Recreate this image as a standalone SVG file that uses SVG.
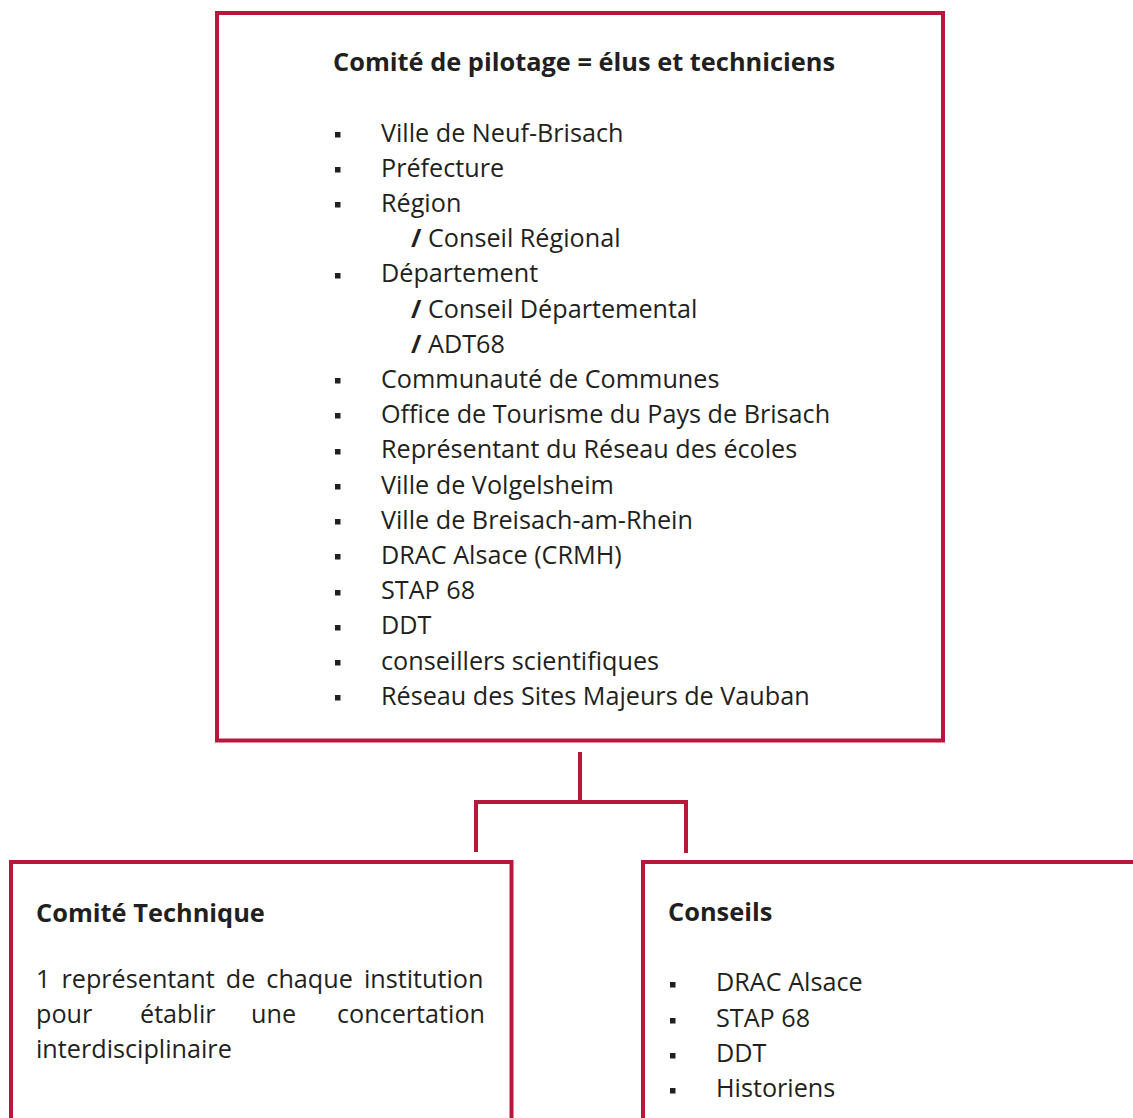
<svg xmlns="http://www.w3.org/2000/svg" width="1133" height="1118" viewBox="0 0 1133 1118">
  <style>
    .box { fill: #ffffff; stroke: #b8173c; stroke-width: 4; }
    .conn { fill: none; stroke: #b8173c; stroke-width: 4; }
    text { font-family: "Open Sans", Roboto, "Liberation Sans", sans-serif; fill: #231f20; font-size: 25.2px; }
    .title { font-weight: bold; font-size: 25.4px; }
    .slash { font-weight: bold; }
    .bullet { fill: #231f20; }
  </style>
  <defs>
    <rect id="sq" width="5.5" height="5.5" class="bullet"/>
  </defs>
  <rect width="1133" height="1118" fill="#ffffff"/>

  <g id="connectors">
    <path class="conn" d="M580,752 V802"/>
    <path class="conn" d="M476,852 V802 H686 V853"/>
  </g>

  <g id="node-copil">
    <rect class="box" x="217" y="13" width="726" height="727.5"/>
    <text class="title" x="333" y="71">Comité de pilotage = élus et techniciens</text>
    <g>
      <use href="#sq" x="335" y="132"/>
      <use href="#sq" x="335" y="167"/>
      <use href="#sq" x="335" y="202"/>
      <use href="#sq" x="335" y="273"/>
      <use href="#sq" x="335" y="378"/>
      <use href="#sq" x="335" y="413"/>
      <use href="#sq" x="335" y="449"/>
      <use href="#sq" x="335" y="484"/>
      <use href="#sq" x="335" y="519"/>
      <use href="#sq" x="335" y="554"/>
      <use href="#sq" x="335" y="590"/>
      <use href="#sq" x="335" y="625"/>
      <use href="#sq" x="335" y="660"/>
      <use href="#sq" x="335" y="695"/>
    </g>
    <text x="381" y="141.5">Ville de Neuf-Brisach</text>
    <text x="381" y="176.7">Préfecture</text>
    <text x="381" y="211.9">Région</text>
    <text x="411" y="247.1"><tspan class="slash">/</tspan> Conseil Régional</text>
    <text x="381" y="282.3">Département</text>
    <text x="411" y="317.5"><tspan class="slash">/</tspan> Conseil Départemental</text>
    <text x="411" y="352.7"><tspan class="slash">/</tspan> ADT68</text>
    <text x="381" y="387.9">Communauté de Communes</text>
    <text x="381" y="423.1">Office de Tourisme du Pays de Brisach</text>
    <text x="381" y="458.3">Représentant du Réseau des écoles</text>
    <text x="381" y="493.5">Ville de Volgelsheim</text>
    <text x="381" y="528.7">Ville de Breisach-am-Rhein</text>
    <text x="381" y="563.9">DRAC Alsace (CRMH)</text>
    <text x="381" y="599.1">STAP 68</text>
    <text x="381" y="634.3">DDT</text>
    <text x="381" y="669.5">conseillers scientifiques</text>
    <text x="381" y="704.7">Réseau des Sites Majeurs de Vauban</text>
  </g>

  <g id="node-cotech">
    <rect class="box" x="11" y="862" width="500.5" height="280"/>
    <text class="title" x="36" y="921.5">Comité Technique</text>
    <text x="36" y="988" word-spacing="4.5">1 représentant de chaque institution</text>
    <text x="36" y="1023">pour</text>
    <text x="140" y="1023">établir</text>
    <text x="251" y="1023">une</text>
    <text x="485" y="1023" text-anchor="end">concertation</text>
    <text x="36" y="1058">interdisciplinaire</text>
  </g>

  <g id="node-conseils">
    <rect class="box" x="643" y="862" width="520" height="280"/>
    <text class="title" x="668" y="920.7">Conseils</text>
    <use href="#sq" x="670" y="982"/>
    <use href="#sq" x="670" y="1018"/>
    <use href="#sq" x="670" y="1053"/>
    <use href="#sq" x="670" y="1088"/>
    <text x="716" y="990.7">DRAC Alsace</text>
    <text x="716" y="1026.7">STAP 68</text>
    <text x="716" y="1061.7">DDT</text>
    <text x="716" y="1096.7">Historiens</text>
  </g>
</svg>
